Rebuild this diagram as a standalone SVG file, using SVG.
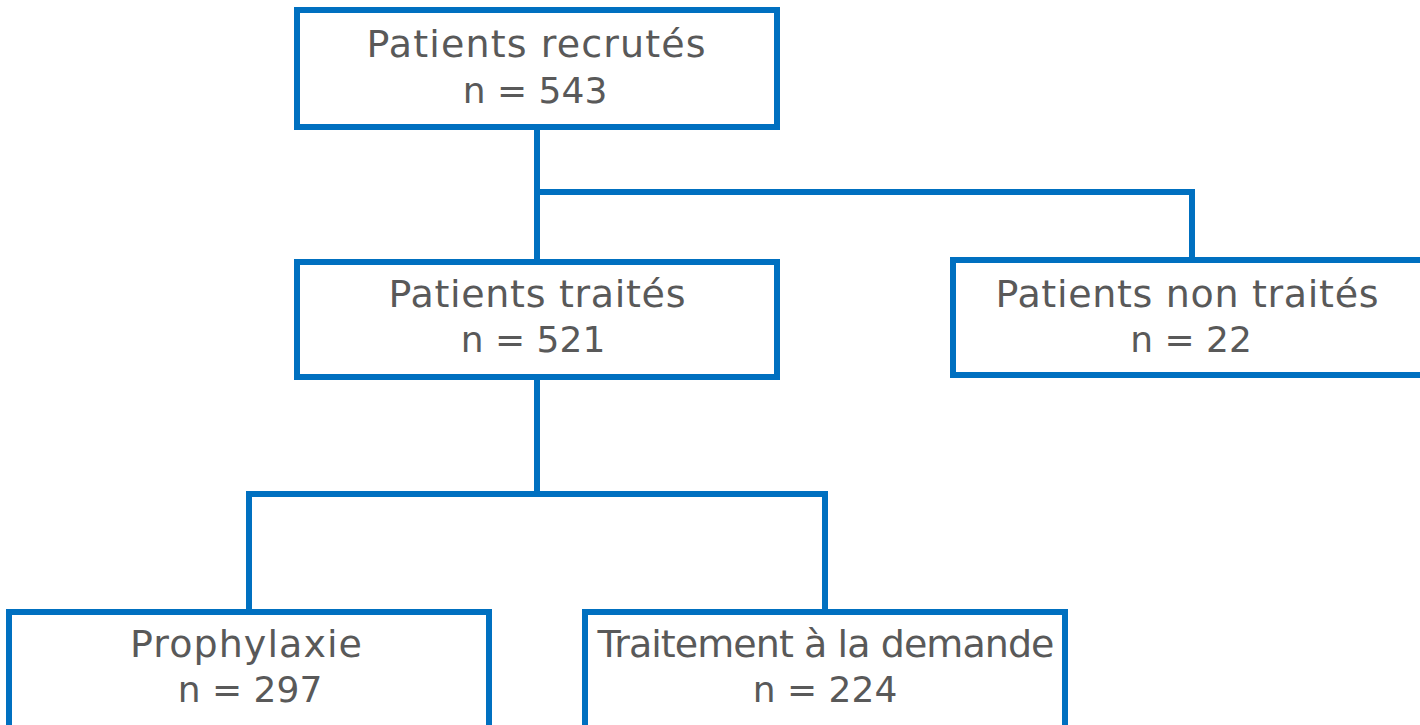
<svg xmlns="http://www.w3.org/2000/svg" width="1420" height="725" viewBox="0 0 1420 725">
<style>
.box{fill:#fff;stroke:#0070c0;stroke-width:6}
.con{fill:none;stroke:#0070c0;stroke-width:6}
.t{font-family:"DejaVu Sans",sans-serif;font-size:38px;fill:#595959;text-anchor:middle}
.n{font-size:36px}
</style>
<rect width="1420" height="725" fill="#fff"/>
<g id="connectors">
<path class="con" d="M537 127V260M537 192H1192V260"/>
<path class="con" d="M537 377V494M249 612V494H825V612"/>
</g>
<g id="n1"><rect class="box" x="297" y="10" width="480" height="117"/><text class="t" x="536" y="57" textLength="339" lengthAdjust="spacing">Patients recrutés</text><text class="t n" x="535" y="103">n = 543</text></g>
<g id="n2"><rect class="box" x="297" y="262" width="480" height="115"/><text class="t" x="537" y="307" textLength="297" lengthAdjust="spacing">Patients traités</text><text class="t n" x="533" y="352">n = 521</text></g>
<g id="n3"><rect class="box" x="953" y="260" width="480" height="115"/><text class="t" x="1187" y="307" textLength="383" lengthAdjust="spacing">Patients non traités</text><text class="t n" x="1191" y="352">n = 22</text></g>
<g id="n4"><rect class="box" x="9" y="612" width="480" height="118"/><text class="t" x="246" y="657" textLength="232" lengthAdjust="spacing">Prophylaxie</text><text class="t n" x="250" y="702">n = 297</text></g>
<g id="n5"><rect class="box" x="585" y="612" width="480" height="118"/><text class="t" x="826" y="657" textLength="457" lengthAdjust="spacing">Traitement à la demande</text><text class="t n" x="825" y="702">n = 224</text></g>
</svg>
